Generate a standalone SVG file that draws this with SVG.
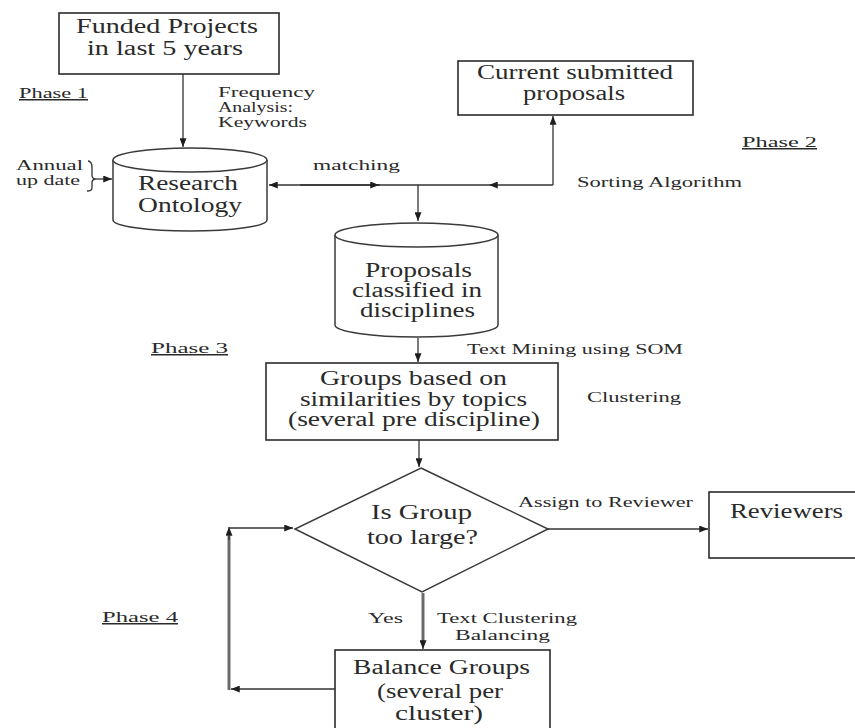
<svg xmlns="http://www.w3.org/2000/svg" width="855" height="728" viewBox="0 0 855 728">
<style>
  .bg{fill:#ffffff}
  .box{fill:#ffffff;stroke:#2b2b2b;stroke-width:1.6}
  .cyl{fill:#ffffff;stroke:#3a3a3a;stroke-width:1.5}
  .ln{fill:none;stroke:#333333;stroke-width:1.3}
  .thick{fill:none;stroke:#6a6a6a;stroke-width:3}
  .t{font-family:"Liberation Serif","Times New Roman",serif;font-size:20px;fill:#2a2a2a}
  .s{font-family:"Liberation Serif","Times New Roman",serif;font-size:15px;fill:#2a2a2a}
  .u{text-decoration:underline}
</style>
<defs>
  <marker id="ah" viewBox="0 0 10 8" refX="10" refY="4" markerWidth="9" markerHeight="7" orient="auto-start-reverse" markerUnits="userSpaceOnUse">
    <path d="M0,0 L10,4 L0,8 Z" fill="#1e1e1e"/>
  </marker>
</defs>
<rect class="bg" x="0" y="0" width="855" height="728"/>

<g id="connectors">
  <line class="ln" x1="183" y1="74" x2="183" y2="147" marker-end="url(#ah)"/>
  <path class="ln" d="M88,161 Q92,161 92,168 L92,175 Q92,179 96,179 Q92,179 92,183 L92,188 Q92,191 87,191"/>
  <line class="ln" x1="96" y1="179" x2="112" y2="179" marker-end="url(#ah)"/>
  <line class="ln" x1="380" y1="185" x2="269" y2="185" marker-end="url(#ah)"/>
  <line class="ln" x1="300" y1="185" x2="379" y2="185" marker-end="url(#ah)"/>
  <line class="ln" x1="553" y1="185" x2="489" y2="185" marker-end="url(#ah)"/>
  <line class="ln" x1="489" y1="185" x2="379" y2="185"/>
  <line class="ln" x1="553" y1="185" x2="553" y2="116" marker-end="url(#ah)"/>
  <line class="ln" x1="418" y1="185" x2="418" y2="221" marker-end="url(#ah)"/>
  <line class="ln" x1="418" y1="338" x2="418" y2="362" marker-end="url(#ah)"/>
  <line class="ln" x1="419" y1="440" x2="419" y2="467" marker-end="url(#ah)"/>
  <line class="ln" x1="548" y1="529" x2="708" y2="529" marker-end="url(#ah)"/>
  <line class="thick" x1="423" y1="593" x2="423" y2="642"/>
  <line class="ln" x1="423" y1="640" x2="423" y2="649" marker-end="url(#ah)"/>
  <line class="ln" x1="335" y1="689" x2="231" y2="689" marker-end="url(#ah)"/>
  <line class="thick" x1="229" y1="690" x2="229" y2="536"/>
  <line class="ln" x1="229" y1="540" x2="229" y2="527" marker-end="url(#ah)"/>
  <line class="ln" x1="229" y1="528" x2="293" y2="528" marker-end="url(#ah)"/>
</g>

<g id="funded">
  <rect class="box" x="59" y="13" width="220" height="61"/>
  <text class="t" x="76" y="33" textLength="182" lengthAdjust="spacingAndGlyphs">Funded Projects</text>
  <text class="t" x="87" y="55" textLength="156" lengthAdjust="spacingAndGlyphs">in last 5 years</text>
</g>

<g id="phase1">
  <text class="s u" x="19" y="98" textLength="69" lengthAdjust="spacingAndGlyphs">Phase 1</text>
</g>

<g id="freq-label">
  <text class="s" x="218" y="97" textLength="97" lengthAdjust="spacingAndGlyphs">Frequency</text>
  <text class="s" x="218" y="112" textLength="75" lengthAdjust="spacingAndGlyphs">Analysis:</text>
  <text class="s" x="218" y="127" textLength="89" lengthAdjust="spacingAndGlyphs">Keywords</text>
</g>

<g id="annual">
  <text class="s" x="16" y="170" textLength="67" lengthAdjust="spacingAndGlyphs">Annual</text>
  <text class="s" x="16" y="185" textLength="64" lengthAdjust="spacingAndGlyphs">up date</text>
</g>

<g id="ontology">
  <path class="cyl" d="M113,160 L113,220 A77,11 0 0 0 267,220 L267,160"/>
  <ellipse class="cyl" cx="190" cy="160" rx="77" ry="12"/>
  <text class="t" x="138" y="190" textLength="100" lengthAdjust="spacingAndGlyphs">Research</text>
  <text class="t" x="138" y="212" textLength="104" lengthAdjust="spacingAndGlyphs">Ontology</text>
</g>

<g id="matching-label">
  <text class="s" x="313" y="170" textLength="87" lengthAdjust="spacingAndGlyphs">matching</text>
</g>

<g id="current">
  <rect class="box" x="458" y="61" width="235" height="54"/>
  <text class="t" x="477" y="79" textLength="196" lengthAdjust="spacingAndGlyphs">Current submitted</text>
  <text class="t" x="523" y="100" textLength="102" lengthAdjust="spacingAndGlyphs">proposals</text>
</g>

<g id="phase2">
  <text class="s u" x="742" y="147" textLength="75" lengthAdjust="spacingAndGlyphs">Phase  2</text>
</g>

<g id="sorting-label">
  <text class="s" x="577" y="187" textLength="165" lengthAdjust="spacingAndGlyphs">Sorting Algorithm</text>
</g>

<g id="proposals">
  <path class="cyl" d="M335,235 L335,325 A81.5,12 0 0 0 498,325 L498,235"/>
  <ellipse class="cyl" cx="416.5" cy="235" rx="81.5" ry="12"/>
  <text class="t" x="365" y="277" textLength="107" lengthAdjust="spacingAndGlyphs">Proposals</text>
  <text class="t" x="352" y="297" textLength="130" lengthAdjust="spacingAndGlyphs">classified in</text>
  <text class="t" x="360" y="317" textLength="115" lengthAdjust="spacingAndGlyphs">disciplines</text>
</g>

<g id="phase3">
  <text class="s u" x="151" y="353" textLength="77" lengthAdjust="spacingAndGlyphs">Phase  3</text>
</g>

<g id="som-label">
  <text class="s" x="467" y="354" textLength="216" lengthAdjust="spacingAndGlyphs">Text Mining using SOM</text>
</g>

<g id="groups">
  <rect class="box" x="266" y="363" width="292" height="77"/>
  <text class="t" x="320" y="385" textLength="187" lengthAdjust="spacingAndGlyphs">Groups based on</text>
  <text class="t" x="300" y="406" textLength="227" lengthAdjust="spacingAndGlyphs">similarities by topics</text>
  <text class="t" x="288" y="426" textLength="252" lengthAdjust="spacingAndGlyphs">(several pre discipline)</text>
</g>

<g id="clustering-label">
  <text class="s" x="587" y="402" textLength="94" lengthAdjust="spacingAndGlyphs">Clustering</text>
</g>

<g id="decision">
  <path class="cyl" d="M421,468 L548,529 L422,592 L295,529 Z"/>
  <text class="t" x="371" y="519" textLength="101" lengthAdjust="spacingAndGlyphs">Is Group</text>
  <text class="t" x="367" y="544" textLength="111" lengthAdjust="spacingAndGlyphs">too large?</text>
</g>

<g id="assign-label">
  <text class="s" x="518" y="507" textLength="175" lengthAdjust="spacingAndGlyphs">Assign to Reviewer</text>
</g>

<g id="reviewers">
  <rect class="box" x="709" y="492" width="160" height="66"/>
  <text class="t" x="730" y="518" textLength="113" lengthAdjust="spacingAndGlyphs">Reviewers</text>
</g>

<g id="phase4">
  <text class="s u" x="102" y="622" textLength="76" lengthAdjust="spacingAndGlyphs">Phase  4</text>
</g>

<g id="yes-label">
  <text class="s" x="368" y="623" textLength="35" lengthAdjust="spacingAndGlyphs">Yes</text>
</g>

<g id="balancing-label">
  <text class="s" x="437" y="623" textLength="140" lengthAdjust="spacingAndGlyphs">Text Clustering</text>
  <text class="s" x="455" y="640" textLength="95" lengthAdjust="spacingAndGlyphs">Balancing</text>
</g>

<g id="balance">
  <rect class="box" x="335" y="650" width="215" height="90"/>
  <text class="t" x="353" y="674" textLength="177" lengthAdjust="spacingAndGlyphs">Balance Groups</text>
  <text class="t" x="377" y="698" textLength="126" lengthAdjust="spacingAndGlyphs">(several per</text>
  <text class="t" x="395" y="720" textLength="88" lengthAdjust="spacingAndGlyphs">cluster)</text>
</g>
</svg>
